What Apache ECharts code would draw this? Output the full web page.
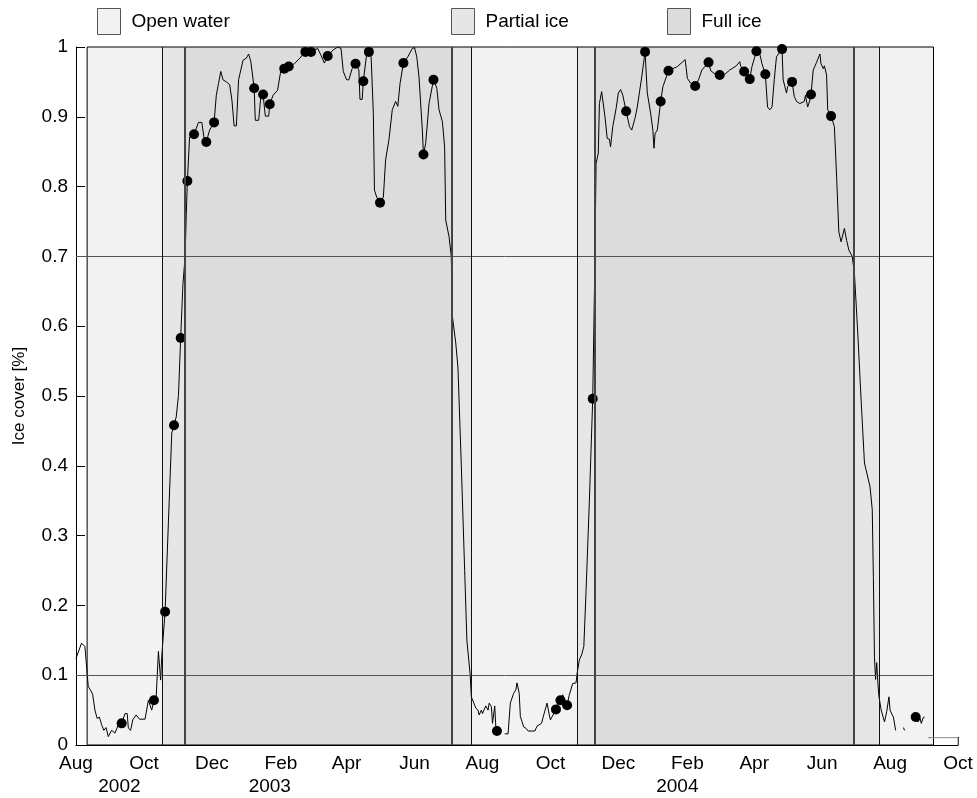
<!DOCTYPE html>
<html>
<head>
<meta charset="utf-8">
<script src="https://cdn.jsdelivr.net/npm/echarts@6/dist/echarts.min.js"></script>
<style>
  html, body { margin: 0; padding: 0; background: #fff; }
  #chart { width: 977px; height: 798px; }
</style>
</head>
<body>
<div id="chart"></div>
<script>
// Month tick positions along the time axis
const monthTicks = ['2002-08-01', '2002-10-01', '2002-12-01', '2003-02-01', '2003-04-01', '2003-06-01',
  '2003-08-01', '2003-10-01', '2003-12-01', '2004-02-01', '2004-04-01', '2004-06-01', '2004-08-01', '2004-10-01'];
const monthNames = ['Jan', 'Feb', 'Mar', 'Apr', 'May', 'Jun', 'Jul', 'Aug', 'Sep', 'Oct', 'Nov', 'Dec'];

// Year captions under the month labels
const yearTicks = ['2002-09-09', '2003-01-22', '2004-01-23'];

// Ice-cover periods [start, end]
const openWater = [['2002-08-11', '2002-10-17'], ['2003-07-22', '2003-10-25'], ['2004-07-22', '2004-09-09']];
const partialIce = [['2002-10-17', '2002-11-07'], ['2003-07-04', '2003-07-22'], ['2003-10-25', '2003-11-10'], ['2004-06-29', '2004-07-22']];
const fullIce = [['2002-11-07', '2003-07-04'], ['2003-11-10', '2004-06-29']];
const recordSpan = ['2002-08-11', '2004-09-09'];
const thresholds = [0.1, 0.7];

// Daily ice cover (fraction); null marks missing data
const iceCover = [
  ['2002-08-01',0.124],['2002-08-06',0.146],['2002-08-09',0.141],['2002-08-11',0.103],['2002-08-12',0.084],
  ['2002-08-15',0.076],['2002-08-16',0.072],['2002-08-18',0.050],['2002-08-20',0.038],['2002-08-22',0.040],
  ['2002-08-24',0.029],['2002-08-26',0.021],['2002-08-28',0.025],['2002-08-30',0.012],['2002-09-02',0.021],
  ['2002-09-05',0.017],['2002-09-08',0.029],['2002-09-11',0.031],['2002-09-14',0.045],['2002-09-16',0.045],
  ['2002-09-17',0.024],['2002-09-19',0.021],['2002-09-21',0.036],['2002-09-24',0.043],['2002-09-27',0.037],
  ['2002-10-02',0.037],['2002-10-05',0.064],['2002-10-08',0.050],['2002-10-10',0.064],['2002-10-12',0.069],
  ['2002-10-14',0.134],['2002-10-16',0.093],['2002-10-17',0.127],['2002-10-20',0.191],['2002-10-23',0.32],
  ['2002-10-26',0.447],['2002-10-28',0.458],['2002-10-30',0.47],['2002-11-01',0.501],['2002-11-03',0.583],
  ['2002-11-05',0.66],['2002-11-07',0.700],['2002-11-08',0.76],['2002-11-09',0.808],['2002-11-11',0.871],
  ['2002-11-15',0.875],['2002-11-19',0.892],['2002-11-22',0.892],['2002-11-24',0.869],['2002-11-26',0.864],
  ['2002-11-29',0.881],['2002-12-03',0.892],['2002-12-05',0.931],['2002-12-07',0.948],['2002-12-09',0.965],
  ['2002-12-11',0.953],['2002-12-14',0.950],['2002-12-17',0.946],['2002-12-19',0.924],['2002-12-21',0.887],
  ['2002-12-23',0.887],['2002-12-25',0.953],['2002-12-29',0.981],['2003-01-01',0.984],['2003-01-03',0.990],
  ['2003-01-05',0.979],['2003-01-08',0.941],['2003-01-09',0.895],['2003-01-12',0.895],['2003-01-14',0.929],
  ['2003-01-16',0.932],['2003-01-18',0.901],['2003-01-21',0.901],['2003-01-22',0.918],['2003-01-25',0.931],
  ['2003-01-29',0.938],['2003-02-01',0.967],['2003-02-04',0.969],['2003-02-08',0.972],['2003-02-13',0.976],
  ['2003-02-18',0.984],['2003-02-23',0.993],['2003-02-28',0.993],['2003-03-06',0.998],['2003-03-09',0.988],
  ['2003-03-12',0.977],['2003-03-13',0.976],['2003-03-15',0.987],['2003-03-20',0.996],['2003-03-24',1.0],
  ['2003-03-27',0.998],['2003-03-29',0.965],['2003-04-01',0.953],['2003-04-03',0.953],['2003-04-06',0.969],
  ['2003-04-09',0.976],['2003-04-12',0.967],['2003-04-13',0.925],['2003-04-15',0.925],['2003-04-16',0.951],
  ['2003-04-19',0.990],['2003-04-21',0.993],['2003-04-23',0.986],['2003-04-25',0.905],['2003-04-26',0.795],
  ['2003-04-28',0.785],['2003-05-01',0.777],['2003-05-04',0.785],['2003-05-06',0.838],['2003-05-09',0.867],
  ['2003-05-12',0.910],['2003-05-15',0.922],['2003-05-17',0.915],['2003-05-19',0.948],['2003-05-22',0.977],
  ['2003-05-26',0.986],['2003-05-30',0.998],['2003-06-01',0.999],['2003-06-03',0.986],['2003-06-05',0.957],
  ['2003-06-08',0.881],['2003-06-09',0.846],['2003-06-11',0.862],['2003-06-14',0.919],['2003-06-18',0.953],
  ['2003-06-21',0.941],['2003-06-23',0.910],['2003-06-26',0.893],['2003-06-28',0.857],['2003-06-29',0.752],
  ['2003-07-02',0.728],['2003-07-04',0.700],['2003-07-05',0.614],['2003-07-08',0.576],['2003-07-10',0.54],
  ['2003-07-13',0.40],['2003-07-16',0.25],['2003-07-18',0.15],['2003-07-21',0.100],['2003-07-22',0.069],
  ['2003-07-25',0.057],['2003-07-26',0.053],['2003-07-28',0.050],['2003-07-29',0.043],['2003-07-31',0.050],
  ['2003-08-01',0.045],['2003-08-04',0.056],['2003-08-06',0.050],['2003-08-07',0.060],['2003-08-09',0.055],
  ['2003-08-10',0.031],['2003-08-12',0.056],['2003-08-13',0.026],['2003-08-14',0.020],['2003-08-17',null],
  ['2003-08-21',0.016],['2003-08-24',0.016],['2003-08-26',0.060],['2003-08-29',0.074],['2003-08-31',0.079],
  ['2003-09-01',0.089],['2003-09-03',0.074],['2003-09-04',0.041],['2003-09-07',0.026],['2003-09-09',0.024],
  ['2003-09-11',0.020],['2003-09-17',0.020],['2003-09-19',0.027],['2003-09-23',0.031],['2003-09-25',0.043],
  ['2003-09-28',0.060],['2003-09-30',0.043],['2003-10-01',0.036],['2003-10-06',0.051],['2003-10-08',0.060],
  ['2003-10-10',0.064],['2003-10-12',0.072],['2003-10-16',0.057],['2003-10-18',0.072],['2003-10-21',0.088],
  ['2003-10-24',0.089],['2003-10-25',0.103],['2003-10-27',0.122],['2003-10-29',0.129],['2003-10-31',0.141],
  ['2003-11-02',0.22],['2003-11-05',0.35],['2003-11-08',0.496],['2003-11-10',0.700],['2003-11-11',0.833],
  ['2003-11-13',0.848],['2003-11-14',0.919],['2003-11-16',0.936],['2003-11-17',0.934],['2003-11-19',0.900],
  ['2003-11-21',0.869],['2003-11-23',0.868],['2003-11-24',0.857],['2003-11-26',0.886],['2003-11-29',0.912],
  ['2003-12-01',0.934],['2003-12-03',0.939],['2003-12-05',0.931],['2003-12-08',0.908],['2003-12-11',0.886],
  ['2003-12-13',0.881],['2003-12-16',0.898],['2003-12-18',0.914],['2003-12-22',0.957],['2003-12-25',0.993],
  ['2003-12-27',0.934],['2003-12-30',0.905],['2004-01-01',0.881],['2004-01-02',0.855],['2004-01-03',0.876],
  ['2004-01-05',0.881],['2004-01-08',0.922],['2004-01-10',0.943],['2004-01-15',0.966],['2004-01-19',0.969],
  ['2004-01-23',0.972],['2004-01-28',0.979],['2004-01-30',0.982],['2004-02-01',0.955],['2004-02-04',0.948],
  ['2004-02-08',0.944],['2004-02-11',0.953],['2004-02-14',0.967],['2004-02-20',0.978],['2004-02-22',0.966],
  ['2004-02-26',0.961],['2004-03-01',0.960],['2004-03-05',0.960],['2004-03-10',0.967],['2004-03-16',0.973],
  ['2004-03-19',0.979],['2004-03-20',0.972],['2004-03-23',0.965],['2004-03-28',0.954],['2004-03-30',0.972],
  ['2004-04-03',0.994],['2004-04-06',0.990],['2004-04-08',0.976],['2004-04-11',0.961],['2004-04-13',0.914],
  ['2004-04-15',0.910],['2004-04-17',0.914],['2004-04-19',0.953],['2004-04-21',0.986],['2004-04-26',0.997],
  ['2004-04-27',0.953],['2004-04-30',0.934],['2004-05-01',0.943],['2004-05-05',0.950],['2004-05-07',0.929],
  ['2004-05-09',0.922],['2004-05-12',0.919],['2004-05-16',0.922],['2004-05-17',0.931],['2004-05-19',0.914],
  ['2004-05-21',0.924],['2004-05-22',0.932],['2004-05-24',0.967],['2004-05-27',0.978],['2004-05-28',0.976],
  ['2004-05-30',0.990],['2004-05-31',0.976],['2004-06-02',0.969],['2004-06-03',0.973],['2004-06-05',0.960],
  ['2004-06-06',0.910],['2004-06-09',0.901],['2004-06-12',0.886],['2004-06-14',0.814],['2004-06-16',0.735],
  ['2004-06-18',0.721],['2004-06-21',0.740],['2004-06-23',0.723],['2004-06-25',0.709],['2004-06-28',0.700],
  ['2004-06-30',0.676],['2004-07-03',0.590],['2004-07-06',0.494],['2004-07-09',0.404],['2004-07-14',0.370],
  ['2004-07-16',0.337],['2004-07-17',0.24],['2004-07-18',0.125],['2004-07-19',0.094],['2004-07-20',0.118],
  ['2004-07-21',0.090],['2004-07-22',0.070],['2004-07-24',0.050],['2004-07-27',0.033],['2004-07-29',0.048],
  ['2004-07-31',0.069],['2004-08-01',0.050],['2004-08-03',0.043],['2004-08-04',0.040],['2004-08-06',0.021],
  ['2004-08-09',null],['2004-08-13',0.025],['2004-08-14',0.021],['2004-08-18',null],['2004-08-22',0.042],
  ['2004-08-24',0.040],['2004-08-26',0.033],['2004-08-28',0.038],['2004-08-29',0.031],['2004-08-31',0.040],
  ['2004-09-01',0.040]
];

// Individual observations shown as dots
const observations = [
  ['2002-09-11',0.031],['2002-10-10',0.064],['2002-10-20',0.191],['2002-10-28',0.458],['2002-11-03',0.583],
  ['2002-11-09',0.808],['2002-11-15',0.875],['2002-11-26',0.864],['2002-12-03',0.892],['2003-01-08',0.941],
  ['2003-01-16',0.932],['2003-01-22',0.918],['2003-02-04',0.969],['2003-02-08',0.972],['2003-02-23',0.993],
  ['2003-02-28',0.993],['2003-03-15',0.987],['2003-04-09',0.976],['2003-04-16',0.951],['2003-04-21',0.993],
  ['2003-05-01',0.777],['2003-05-22',0.977],['2003-06-09',0.846],['2003-06-18',0.953],['2003-08-14',0.020],
  ['2003-10-06',0.051],['2003-10-10',0.064],['2003-10-16',0.057],['2003-11-08',0.496],['2003-12-08',0.908],
  ['2003-12-25',0.993],['2004-01-08',0.922],['2004-01-15',0.966],['2004-02-08',0.944],['2004-02-20',0.978],
  ['2004-03-01',0.960],['2004-03-23',0.965],['2004-03-28',0.954],['2004-04-03',0.994],['2004-04-11',0.961],
  ['2004-04-26',0.997],['2004-05-05',0.950],['2004-05-22',0.932],['2004-06-09',0.901],['2004-08-24',0.040]
];

// Trailing record stub after the last sample
const trailStub = [['2004-09-04',0.0105],['2004-10-01',0.0105],['2004-10-01',0]];

const t = s => Date.parse(s + 'T00:00:00Z');
const toPoints = arr => arr.map(([d, v]) => [t(d), v]);

const FONT = 'Liberation Sans, Arial, Helvetica, sans-serif';
const bandColors = { open: '#f2f2f2', partial: '#e6e6e6', full: '#dcdcdc' };

function bandSeries(name, color, periods) {
  return {
    name, type: 'line', data: [], z: 1, silent: true,
    itemStyle: { color },
    lineStyle: { color },
    markArea: {
      silent: true,
      itemStyle: { color, borderWidth: 0 },
      data: periods.map(([a, b]) => [{ xAxis: t(a), yAxis: 0 }, { xAxis: t(b), yAxis: 1 }])
    }
  };
}

const thinEdges = [openWater[0][1], openWater[1][0], openWater[1][1], openWater[2][0]];
const thickEdges = [fullIce[0][0], fullIce[0][1], fullIce[1][0], fullIce[1][1]];

const vLine = (d, color, width) => [
  { coord: [t(d), 0], lineStyle: { color, width, type: 'solid' } },
  { coord: [t(d), 1] }
];

function legendAt(name, left) {
  return {
    data: [name], left, top: 8, padding: 0,
    icon: 'rect', itemWidth: 23, itemHeight: 26,
    itemStyle: { borderColor: '#555', borderWidth: 1 },
    textStyle: { fontFamily: FONT, fontSize: 19, color: '#000', padding: [0, 0, 0, 6] },
    selectedMode: false
  };
}

const chart = echarts.init(document.getElementById('chart'), null, { renderer: 'canvas' });
chart.setOption({
  animation: false,
  backgroundColor: '#fff',
  legend: [legendAt('Open water', 97), legendAt('Partial ice', 451), legendAt('Full ice', 667)],
  grid: { left: 76, right: 19, top: 47, bottom: 53, containLabel: false },
  xAxis: [
    {
      type: 'value', min: t('2002-08-01'), max: t('2004-10-01'),
      axisLine: { show: true, lineStyle: { color: '#000', width: 1 } },
      axisTick: { show: true, inside: true, length: 8, lineStyle: { color: '#000' },
        customValues: [t('2004-10-01')] },
      splitLine: { show: false },
      axisLabel: {
        customValues: monthTicks.map(t), margin: 9,
        fontFamily: FONT, fontSize: 19, color: '#000',
        formatter: v => monthNames[new Date(v).getUTCMonth()]
      }
    },
    {
      type: 'value', min: t('2002-08-01'), max: t('2004-10-01'), position: 'bottom',
      axisLine: { show: false }, axisTick: { show: false }, splitLine: { show: false },
      axisLabel: {
        customValues: yearTicks.map(t), margin: 32,
        fontFamily: FONT, fontSize: 19, color: '#000',
        formatter: v => String(new Date(v).getUTCFullYear())
      }
    }
  ],
  yAxis: {
    type: 'value', min: 0, max: 1, interval: 0.1,
    name: 'Ice cover [%]', nameLocation: 'middle', nameGap: 48,
    nameTextStyle: { fontFamily: FONT, fontSize: 17, color: '#000' },
    axisLine: { show: true, lineStyle: { color: '#000', width: 1 } },
    axisTick: { show: true, inside: true, length: 9, lineStyle: { color: '#000' } },
    splitLine: { show: false },
    axisLabel: {
      margin: 8, fontFamily: FONT, fontSize: 19, color: '#000',
      formatter: v => (v === 0 ? '0' : v === 1 ? '1' : v.toFixed(1))
    }
  },
  series: [
    bandSeries('Open water', bandColors.open, openWater),
    bandSeries('Partial ice', bandColors.partial, partialIce),
    bandSeries('Full ice', bandColors.full, fullIce),
    {
      name: 'frame', type: 'line', data: [], z: 2, silent: true,
      markArea: {
        silent: true,
        itemStyle: { color: 'rgba(0,0,0,0)', borderColor: '#000', borderWidth: 1 },
        data: [[{ xAxis: t(recordSpan[0]), yAxis: 0 }, { xAxis: t(recordSpan[1]), yAxis: 1 }]]
      },
      markLine: {
        silent: true, symbol: 'none', label: { show: false },
        data: [
          ...thresholds.map(y => [
            { coord: [t('2002-08-01'), y], lineStyle: { color: '#555', width: 1, type: 'solid' } },
            { coord: [t(recordSpan[1]), y] }
          ]),
          ...thinEdges.map(d => vLine(d, '#111', 1)),
          ...thickEdges.map(d => vLine(d, '#444', 2))
        ]
      }
    },
    {
      name: 'Ice cover', type: 'line', z: 3, data: toPoints(iceCover),
      showSymbol: false, connectNulls: false,
      lineStyle: { color: '#000', width: 1 }, itemStyle: { color: '#000' }
    },
    {
      name: 'trail', type: 'line', z: 3, data: toPoints(trailStub),
      showSymbol: false, lineStyle: { color: '#888', width: 1 }
    },
    {
      name: 'Observations', type: 'scatter', z: 4, data: toPoints(observations),
      symbol: 'circle', symbolSize: 10, itemStyle: { color: '#000', opacity: 1 }
    }
  ]
});
</script>
</body>
</html>
